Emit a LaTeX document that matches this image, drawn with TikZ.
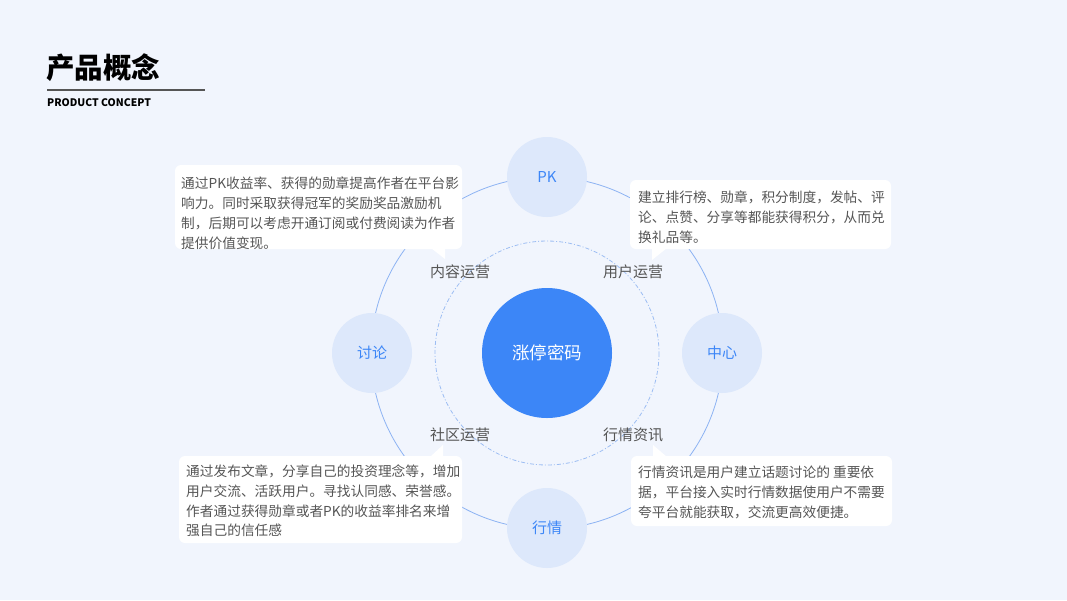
\documentclass[tikz,border=0pt]{standalone}
\usepackage{fontspec}
\setmainfont{Noto Sans CJK SC}
\definecolor{bg}{HTML}{F1F5FD}
\definecolor{ring}{HTML}{8DB3F3}
\definecolor{dashring}{HTML}{9CBDF3}
\definecolor{nodefill}{HTML}{DDE8FB}
\definecolor{accent}{HTML}{3C86F7}
\definecolor{txt}{HTML}{555555}
\definecolor{rule}{HTML}{555555}
\tikzset{
  x=1pt,y=-1pt,
  satnode/.style={circle,fill=nodefill,minimum size=80pt,inner sep=0pt,text=accent,font=\fontsize{15}{18}\selectfont},
  corenode/.style={circle,fill=accent,minimum size=130pt,inner sep=0pt,text=white,font=\fontsize{17.5}{21}\selectfont},
  oplabel/.style={text=txt,font=\fontsize{15}{18}\selectfont,inner sep=0pt},
  callout/.style={fill=white,rounded corners=6pt,inner sep=0pt,draw=none},
  calltext/.style={text=txt,font=\fontsize{13.7}{19.8}\selectfont,align=left,inner sep=0pt,anchor=north west},
}
\begin{document}
\begin{tikzpicture}
\path[fill=bg] (0,0) rectangle (1067,600);
\useasboundingbox (0,0) rectangle (1067,600);
% title
\node[anchor=west,inner sep=0pt,font=\fontsize{28.5}{31}\selectfont\bfseries] (title) at (46,67.5) {产品概念};
\coordinate (ruleA) at (47,90);
\coordinate (ruleB) at (205,90);
\draw[rule,line width=1.2pt] (ruleA) -- (ruleB);
\node[anchor=west,inner sep=0pt,font=\fontsize{10.4}{12}\selectfont\bfseries] (subtitle) at (47,102.5) {PRODUCT CONCEPT};
% rings
\coordinate (c) at (547,353);
\draw[ring,line width=0.8pt] (c) circle[radius=176];
\draw[dashring,line width=0.8pt,dash pattern=on 4pt off 2pt on 1pt off 2pt] (c) circle[radius=112];
% satellite nodes
\node[satnode] (pk) at (547,177) {PK};
\node[satnode] (tl) at (372,353) {讨论};
\node[satnode] (zx) at (722,353) {中心};
\node[satnode] (hq) at (547,528) {行情};
\node[corenode] (core) at (c) {涨停密码};
% labels
\node[oplabel] (nr) at (460,272) {内容运营};
\node[oplabel] (yh) at (633,272) {用户运营};
\node[oplabel] (sq) at (460,435) {社区运营};
\node[oplabel] (hqzx) at (633,435) {行情资讯};
% callout 1
\fill[callout] (175,165) rectangle (462,249);
\fill[white] (431,248) -- (445,248) -- (445,259) -- cycle;
\node[calltext] (t1) at (181,177) {通过PK收益率、获得的勋章提高作者在平台影\\响力。同时采取获得冠军的奖励奖品激励机\\制，后期可以考虑开通订阅或付费阅读为作者\\提供价值变现。};
% callout 2
\fill[callout] (630,180) rectangle (891,249);
\fill[white] (652,248) -- (667,248) -- (652,260) -- cycle;
\node[calltext] (t2) at (638,190.5) {建立排行榜、勋章，积分制度，发帖、评\\论、点赞、分享等都能获得积分，从而兑\\换礼品等。};
% callout 3
\fill[callout] (179,456) rectangle (462,543);
\fill[white] (430,457) -- (443,457) -- (443,445) -- cycle;
\node[calltext] (t3) at (186,464.5) {通过发布文章，分享自己的投资理念等，增加\\用户交流、活跃用户。寻找认同感、荣誉感。\\作者通过获得勋章或者PK的收益率排名来增\\强自己的信任感};
% callout 4
\fill[callout] (631,456) rectangle (892,526);
\fill[white] (653,457) -- (667,457) -- (653,445) -- cycle;
\node[calltext] (t4) at (638,466) {行情资讯是用户建立话题讨论的 重要依\\据，平台接入实时行情数据使用户不需要\\夸平台就能获取，交流更高效便捷。};
\end{tikzpicture}
\end{document}
